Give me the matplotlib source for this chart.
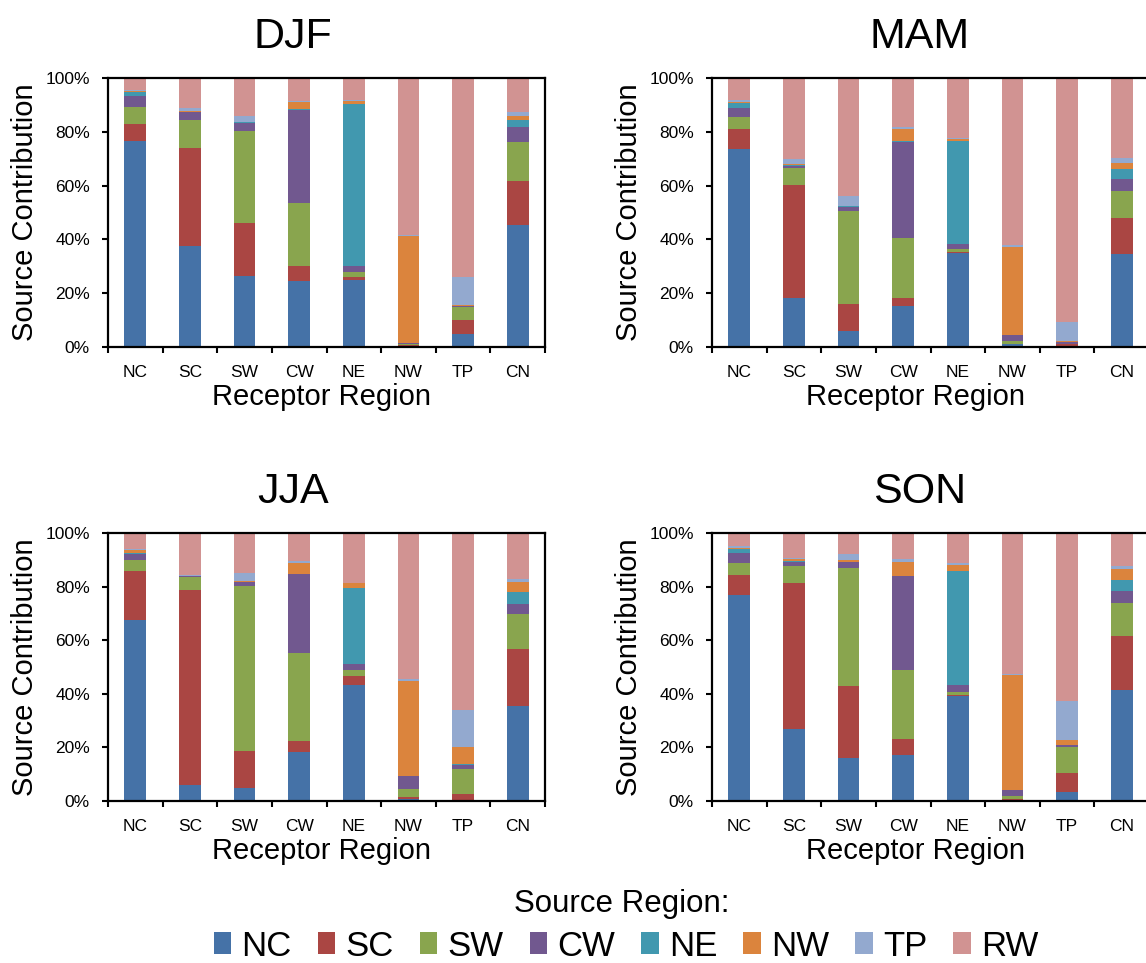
import matplotlib
matplotlib.use("Agg")
import matplotlib.pyplot as plt
import numpy as np
from matplotlib.patches import Patch
from matplotlib.ticker import PercentFormatter

plt.rcParams['font.family'] = ['Liberation Sans', 'DejaVu Sans']

receptors = ["NC", "SC", "SW", "CW", "NE", "NW", "TP", "CN"]
sources = ["NC", "SC", "SW", "CW", "NE", "NW", "TP", "RW"]
colors = ["#4572A7", "#AA4643", "#89A54E", "#71588F",
          "#4198AF", "#DB843D", "#93A9CF", "#D19392"]

# contributions in %, one row per source region, columns follow `receptors`
djf = [
    [76.7, 37.4, 26.3, 24.5, 25.0, 0.2, 4.7, 45.3],
    [6.1, 36.4, 19.7, 5.6, 1.2, 0.5, 5.5, 16.5],
    [6.5, 10.5, 34.4, 23.4, 1.8, 0.3, 4.6, 14.4],
    [4.1, 2.9, 3.0, 34.7, 2.1, 0.6, 0.6, 5.4],
    [1.5, 0.3, 0.1, 0.1, 60.4, 0.0, 0.0, 2.7],
    [0.4, 0.2, 0.3, 2.6, 1.0, 39.5, 0.2, 1.5],
    [0.4, 1.0, 2.1, 0.5, 0.2, 0.5, 10.6, 1.4],
    [4.4, 11.3, 14.1, 8.6, 8.3, 58.4, 73.8, 12.8],
]
mam = [
    [73.5, 18.1, 6.1, 15.4, 35.0, 1.0, 0.4, 34.7],
    [7.5, 42.1, 9.8, 3.0, 0.5, 0.2, 0.6, 13.4],
    [4.6, 6.3, 34.5, 22.2, 1.0, 1.0, 0.2, 10.0],
    [3.1, 0.8, 1.8, 35.7, 1.9, 2.1, 0.5, 4.4],
    [2.0, 0.4, 0.1, 0.1, 38.2, 0.0, 0.0, 3.8],
    [0.4, 0.4, 0.1, 4.6, 0.9, 33.0, 0.5, 2.1],
    [0.6, 1.7, 3.7, 0.7, 0.3, 0.5, 7.1, 1.7],
    [8.3, 30.2, 43.9, 18.3, 22.2, 62.2, 90.7, 29.9],
]
jja = [
    [67.4, 6.0, 4.9, 18.1, 43.3, 0.9, 0.2, 35.6],
    [18.5, 72.8, 13.7, 4.3, 3.4, 0.7, 2.4, 21.3],
    [4.0, 4.8, 61.8, 33.0, 2.2, 2.8, 9.5, 12.7],
    [2.1, 0.2, 1.2, 29.2, 2.2, 4.9, 1.5, 3.9],
    [0.5, 0.1, 0.1, 0.1, 28.2, 0.0, 0.1, 4.3],
    [1.1, 0.2, 0.5, 4.2, 1.9, 35.5, 6.6, 3.9],
    [0.3, 0.2, 2.9, 0.8, 0.2, 0.8, 13.8, 1.2],
    [6.1, 15.9, 14.9, 10.3, 18.6, 54.4, 65.9, 17.1],
]
son = [
    [76.7, 27.0, 16.0, 17.1, 39.0, 0.4, 3.3, 41.3],
    [7.7, 54.5, 26.9, 5.9, 0.7, 0.2, 7.2, 20.2],
    [4.3, 6.1, 44.1, 25.9, 1.1, 1.3, 9.8, 12.5],
    [3.7, 1.7, 2.1, 35.0, 2.6, 2.1, 0.6, 4.2],
    [1.7, 0.4, 0.2, 0.1, 42.5, 0.0, 0.1, 4.3],
    [0.4, 0.5, 0.5, 5.1, 2.3, 43.2, 1.6, 4.1],
    [0.5, 0.6, 2.3, 1.1, 0.6, 0.3, 14.8, 1.0],
    [5.0, 9.2, 7.9, 9.8, 11.2, 52.5, 62.6, 12.4],
]

W, H = 1146, 963
fig = plt.figure(figsize=(W / 100, H / 100), dpi=100)


def px(x, y):
    return x / W, 1 - y / H


# (name, data, axes left px, axes top px, axes bottom px, title x px, label x px, ylabel x px)
panels = [
    ("DJF", djf, 108, 78, 347, 293, 322, 25),
    ("MAM", mam, 712, 78, 347, 920, 915, 629),
    ("JJA", jja, 108, 533, 801, 293, 322, 25),
    ("SON", son, 712, 533, 801, 920, 915, 629),
]

x = np.arange(len(receptors))
for name, data, left, top, bottom, tx, lx, yx in panels:
    ax = fig.add_axes([left / W, 1 - bottom / H, 437 / W, (bottom - top) / H])
    base = np.zeros(len(receptors))
    for vals, c in zip(data, colors):
        v = np.array(vals)
        ax.bar(x, v, 0.4, bottom=base, color=c, linewidth=0)
        base += v
    ax.set_xlim(-0.5, len(receptors) - 0.5)
    ax.set_ylim(0, 100)
    ax.set_yticks(np.arange(0, 101, 20))
    ax.yaxis.set_major_formatter(PercentFormatter(decimals=0))
    # ticks sit between the bars, labels under the bars
    ax.set_xticks(np.arange(-0.5, len(receptors)), labels=[])
    ax.set_xticks(x, labels=receptors, minor=True)
    ax.tick_params(axis='x', which='major', direction='out', length=4, width=1.5)
    ax.tick_params(axis='x', which='minor', length=0, pad=13, labelsize=12.5)
    ax.tick_params(axis='y', direction='out', length=4, width=1.5, pad=9, labelsize=12.5)
    for s in ax.spines.values():
        s.set_linewidth(1.6)

    fig.text(*px(tx, top - 30), name, fontsize=31, ha='center', va='baseline')
    fig.text(*px(lx, bottom + 58), "Receptor Region", fontsize=21, ha='center', va='baseline')
    fig.text(*px(yx, (top + bottom) / 2), "Source Contribution", fontsize=21,
             rotation=90, ha='center', va='center')

fig.text(*px(622, 912), "Source Region:", fontsize=22.5, ha='center', va='baseline')
handles = [Patch(facecolor=c, edgecolor='none') for c in colors]
fig.legend(handles, sources, ncol=8, loc='center', bbox_to_anchor=px(626, 946),
           frameon=False, fontsize=25, handlelength=0.5, handleheight=0.6,
           handletextpad=0.3, columnspacing=0.75, borderpad=0)

fig.savefig("out.png", dpi=100)
